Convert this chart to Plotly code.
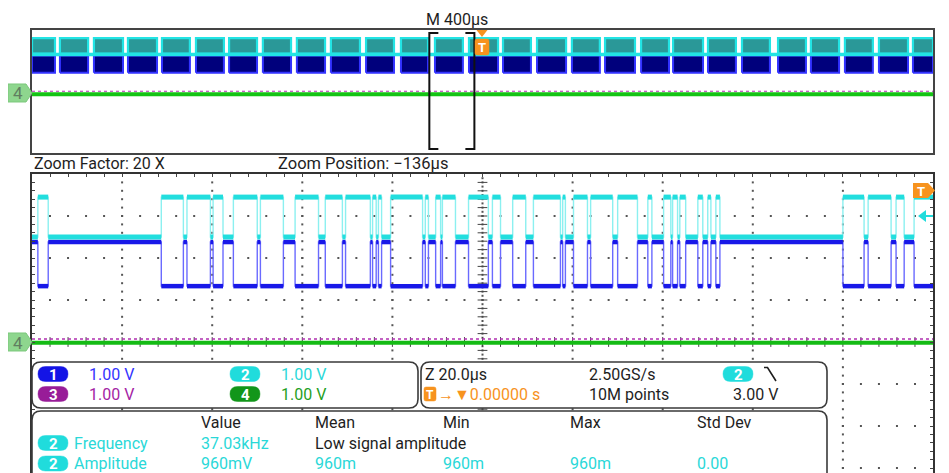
import plotly.graph_objects as go

# page is 949x473; the html body has an 8px margin, so the figure is 941x465 drawn at (8, 8)
PAGE_W, PAGE_H = 949, 473
OFF = 8
W, H = PAGE_W - OFF, PAGE_H - OFF

# ---------------- data ----------------
# Overview record (M 400 µs/div, trigger at centre): bursts of bus activity, µs
overview_burst_start = [-2000, -1876, -1725, -1574, -1423, -1272, -1125, -975, -824, -673,
                        -517, -362, -211, -60, 91, 242, 397, 544, 704, 846,
                        1001, 1152, 1312, 1458, 1609, 1760, 1911]
overview_burst_end = [-1898, -1751, -1596, -1445, -1299, -1148, -1001, -850, -699, -544,
                      -393, -242, -87, 69, 215, 371, 521, 677, 828, 979,
                      1125, 1276, 1436, 1583, 1733, 1889, 2000]

# Zoom window
zoom_factor = 20
zoom_position_us = -136
overview_us_per_div = 400

# Zoomed view: intervals where the differential pair is driven (µs)
zoom_active_start = [-234.7, -207.3, -201.6, -195.8, -191.3, -185.3, -177.6, -170.9, -166.4,
                     -160.4, -159.1, -156.4, -148.7, -146.4, -144.9, -139.1, -133.8, -129.3,
                     -124.7, -118.2, -115.8, -112.0, -106.0, -99.3, -95.8, -93.8, -92.2,
                     -88.2, -86.0, -84.2, -56.0, -50.4, -44.2, -40.2]
zoom_active_end = [-232.4, -202.4, -196.4, -193.6, -186.0, -180.2, -172.4, -167.1, -160.9,
                   -159.6, -158.4, -149.3, -148.0, -145.3, -142.0, -134.7, -132.0, -126.4,
                   -118.7, -117.6, -112.7, -107.1, -101.6, -98.4, -94.2, -92.7, -90.9,
                   -87.1, -85.3, -83.3, -51.3, -45.3, -42.4, -35.0]

# Trace levels (screen divisions)
ch2_high, ch2_idle = 3.45, 2.5
ch1_idle, ch1_low = 2.38, 1.33
ch3_level, ch4_level = 0.07, 0.0
trigger_level_div = 3.0

# Readouts
channel_scales = ["1.00 V", "1.00 V", "1.00 V", "1.00 V"]
meas_headers = ["Value", "Mean", "Min", "Max", "Std Dev"]
meas_freq = ["37.03kHz", "Low signal amplitude"]
meas_ampl = ["960mV", "960m", "960m", "960m", "0.00"]

# ---------------- helpers ----------------
FONT = "Roboto, 'Open Sans', sans-serif"
DARK = "#1e1e1e"
C1, C1T = "#1414e6", "#3434ff"
C2, C2T = "#20dcdc", "#2ad8d8"
C3, C3T = "#981c98", "#a424a4"
C4, C4T = "#12961a", "#1fa01f"
ORANGE = "#f7931e"


def fx(x):
    return (x - OFF) / W


def fy(y):
    return 1 - (y - OFF) / H


def px(x, y):
    return fx(x), fy(y)


def path_px(points, close=True):
    s = ""
    for cmd, coords in points:
        parts = []
        for j in range(0, len(coords), 2):
            X, Y = px(coords[j], coords[j + 1])
            parts.append(f"{X:.5f},{Y:.5f}")
        s += cmd + " " + " ".join(parts) + " "
    if close:
        s += "Z"
    return s


def rrect(x0, y0, x1, y1, r):
    return path_px([
        ("M", (x0 + r, y0)), ("L", (x1 - r, y0)), ("Q", (x1, y0, x1, y0 + r)),
        ("L", (x1, y1 - r)), ("Q", (x1, y1, x1 - r, y1)), ("L", (x0 + r, y1)),
        ("Q", (x0, y1, x0, y1 - r)), ("L", (x0, y0 + r)), ("Q", (x0, y0, x0 + r, y0)),
    ])


shapes, annos = [], []


def box(x0, y0, x1, y1, r=8, fill="white", line="#3a3a3a", lw=1.6):
    shapes.append(dict(type="path", xref="paper", yref="paper", path=rrect(x0, y0, x1, y1, r),
                       fillcolor=fill, line=dict(color=line, width=lw), layer="above"))


def txt(x, y, s, color=DARK, size=16, anchor="left", bold=False):
    annos.append(dict(xref="paper", yref="paper", x=fx(x), y=fy(y), text=f"<b>{s}</b>" if bold else s,
                      showarrow=False, xanchor=anchor, yanchor="middle",
                      font=dict(family=FONT, size=size, color=color), borderpad=0))


def pill(x, y, label, color):
    box(x, y - 7.5, x + 30, y + 7.5, r=7.5, fill=color, line=color, lw=0.5)
    txt(x + 15, y + 0.5, label, "white", 15, "center", True)


def steps(starts, ends, idle, active, x0, x1):
    xs, ys = [x0], [idle]
    for s, e in zip(starts, ends):
        xs += [s, s, e, e]
        ys += [idle, active, active, idle]
    xs.append(x1); ys.append(idle)
    return xs, ys


def flats(starts, ends, idle, active, x0, x1):
    xs, ys = [], []
    prev = x0
    for s, e in zip(starts, ends):
        xs += [prev, s, None, s, e, None]
        ys += [idle, idle, None, active, active, None]
        prev = e
    xs += [prev, x1]; ys += [idle, idle]
    return xs, ys


def bands(starts, ends, lo, hi):
    xs, ys = [], []
    for s, e in zip(starts, ends):
        xs += [s, e, e, s, s, None]
        ys += [lo, lo, hi, hi, lo, None]
    return xs, ys


fig = go.Figure()

# ---------------- overview panel ----------------
ov_half = overview_us_per_div * 5
fig.add_trace(go.Scatter(x=[-ov_half, ov_half], y=[ch3_level + 0.12] * 2, mode="lines",
                         line=dict(color="#b030b0", width=1.2, dash="dot"), xaxis="x", yaxis="y", hoverinfo="skip"))
fig.add_trace(go.Scatter(x=[-ov_half, ov_half], y=[ch4_level] * 2, mode="lines",
                         line=dict(color="#14c414", width=4), xaxis="x", yaxis="y", hoverinfo="skip"))
bx, by = bands(overview_burst_start, overview_burst_end, ch1_low, ch1_idle)
fig.add_trace(go.Scatter(x=bx, y=by, mode="lines", fill="toself", fillcolor="#00007c",
                         line=dict(color="#3232ff", width=2), xaxis="x", yaxis="y", hoverinfo="skip"))
bx, by = bands(overview_burst_start, overview_burst_end, ch2_idle, ch2_high)
fig.add_trace(go.Scatter(x=bx, y=by, mode="lines", fill="toself", fillcolor="#2a9898",
                         line=dict(color="#22e4e4", width=2.2), xaxis="x", yaxis="y", hoverinfo="skip"))
fig.add_trace(go.Scatter(x=[-ov_half, ov_half], y=[ch2_idle - 0.05] * 2, mode="lines",
                         line=dict(color="#22e4e4", width=3.5), xaxis="x", yaxis="y", hoverinfo="skip"))

# ---------------- zoom panel graticule ----------------
window = overview_us_per_div * 10 / zoom_factor
zx0 = zoom_position_us - window / 2
zx1 = zoom_position_us + window / 2
zdiv = window / 10
ybot = 4 - (PAGE_H - 174) / 42.0

gx, gy = [], []
for k in range(1, 10):
    if k == 5:
        continue
    for j in range(-16, 20):
        gx.append(zx0 + k * zdiv); gy.append(j * 0.2)
for r in [-3, -2, -1, 1, 2, 3]:
    for i in range(1, 50):
        gx.append(zx0 + i * zdiv / 5); gy.append(r)
for j in range(-32, 40):
    gx.append(zoom_position_us); gy.append(j * 0.1)
fig.add_trace(go.Scatter(x=gx, y=gy, mode="markers", marker=dict(symbol="square", size=2, color="#555"),
                         xaxis="x2", yaxis="y2", hoverinfo="skip"))
cx = [zoom_position_us] * 36
cy = [j * 0.2 for j in range(-16, 20)]
fig.add_trace(go.Scatter(x=cx, y=cy, mode="markers",
                         marker=dict(symbol="line-ew", size=7, line=dict(color="#444", width=1)),
                         xaxis="x2", yaxis="y2", hoverinfo="skip"))
hx = [zx0 + i * zdiv / 5 for i in range(1, 50)]
fig.add_trace(go.Scatter(x=hx, y=[0] * len(hx), mode="markers",
                         marker=dict(symbol="line-ns", size=7, line=dict(color="#444", width=1)),
                         xaxis="x2", yaxis="y2", hoverinfo="skip"))

# ---------------- zoom panel traces ----------------
fig.add_trace(go.Scatter(x=[zx0, zx1], y=[ch3_level] * 2, mode="lines",
                         line=dict(color="#b030b0", width=1.5, dash="dot"), xaxis="x2", yaxis="y2", hoverinfo="skip"))
fig.add_trace(go.Scatter(x=[zx0, zx1], y=[ch4_level - 0.02] * 2, mode="lines",
                         line=dict(color="#14bb14", width=4), xaxis="x2", yaxis="y2", hoverinfo="skip"))

sx, sy = steps(zoom_active_start, zoom_active_end, ch1_idle, ch1_low, zx0 - 5, zx1 + 5)
fig.add_trace(go.Scatter(x=sx, y=sy, mode="lines", line=dict(color="#6a6aff", width=1.4),
                         xaxis="x2", yaxis="y2", hoverinfo="skip"))
fxs, fys = flats(zoom_active_start, zoom_active_end, ch1_idle, ch1_low, zx0 - 5, zx1 + 5)
fig.add_trace(go.Scatter(x=fxs, y=fys, mode="lines", line=dict(color="#1818e8", width=4.5),
                         xaxis="x2", yaxis="y2", hoverinfo="skip"))
sx, sy = steps(zoom_active_start, zoom_active_end, ch2_idle, ch2_high, zx0 - 5, zx1 + 5)
fig.add_trace(go.Scatter(x=sx, y=sy, mode="lines", line=dict(color="#8cf0f0", width=1.4),
                         xaxis="x2", yaxis="y2", hoverinfo="skip"))
fxs, fys = flats(zoom_active_start, zoom_active_end, ch2_idle, ch2_high, zx0 - 5, zx1 + 5)
fig.add_trace(go.Scatter(x=fxs, y=fys, mode="lines", line=dict(color="#22dede", width=5),
                         xaxis="x2", yaxis="y2", hoverinfo="skip"))

# ---------------- markers / decorations ----------------
# zoom brackets on overview
for xb, d in [(zx0, 1), (zx1, -1)]:
    serif = d * 40
    shapes.append(dict(type="path", xref="x", yref="paper",
                       path=f"M {xb + serif},{fy(33)} L {xb},{fy(33)} L {xb},{fy(149)} L {xb + serif},{fy(149)}",
                       line=dict(color="#111", width=2)))
# trigger T on overview
shapes.append(dict(type="path", xref="paper", yref="paper",
                   path=path_px([("M", (476.5, 30)), ("L", (487.5, 30)), ("L", (482, 37))]),
                   fillcolor=ORANGE, line=dict(width=0)))
box(475, 39, 489, 55, r=2, fill=ORANGE, line=ORANGE, lw=0.5)
txt(482, 47.5, "T", "white", 13, "center", True)
# right T marker on zoom
shapes.append(dict(type="path", xref="paper", yref="paper", layer="above",
                   path=path_px([("M", (913, 183)), ("L", (928, 183)), ("L", (935, 190.5)), ("L", (928, 198)), ("L", (913, 198))]),
                   fillcolor=ORANGE, line=dict(width=0)))
txt(921, 191, "T", "white", 13, "center", True)
# trigger level arrow
ty = 174 + (4 - trigger_level_div) * 42
shapes.append(dict(type="path", xref="paper", yref="paper", layer="above",
                   path=path_px([("M", (918, ty)), ("L", (926, ty - 6)), ("L", (926, ty + 6))]),
                   fillcolor=C2, line=dict(width=0)))
shapes.append(dict(type="line", xref="paper", yref="paper", x0=fx(925), x1=fx(933), y0=fy(ty), y1=fy(ty),
                   line=dict(color=C2, width=2), layer="above"))
# channel 4 ground markers
for cyp in [93, 342]:
    shapes.append(dict(type="path", xref="paper", yref="paper", layer="above",
                       path=path_px([("M", (8, cyp - 9)), ("L", (26, cyp - 9)), ("L", (32, cyp)), ("L", (26, cyp + 9)), ("L", (8, cyp + 9))]),
                       fillcolor="#8ed68e", line=dict(color="#7cc87c", width=1)))
    txt(18, cyp + 0.5, "4", "#607f60", 17, "center")

# ---------------- readout boxes ----------------
box(32, 362, 418, 408, r=9)
box(421, 362, 827, 408, r=9)
box(32, 411, 827, 500, r=9)

pill(38, 374, "1", C1)
txt(88, 374, channel_scales[0], C1T)
pill(230, 374, "2", C2)
txt(280, 374, channel_scales[1], C2T)
pill(38, 394, "3", C3)
txt(88, 394, channel_scales[2], C3T)
pill(230, 394, "4", C4)
txt(280, 394, channel_scales[3], C4T)

txt(424, 374, f"Z {zdiv:.1f}µs")
box(424, 387, 436, 401, r=2, fill=ORANGE, line=ORANGE, lw=0.5)
txt(430, 394.5, "T", "white", 12, "center", True)
txt(437, 394, "→▼0.00000 s", ORANGE)
txt(588, 374, "2.50GS/s")
txt(588, 394, "10M points")
pill(723, 374, "2", C2)
shapes.append(dict(type="path", xref="paper", yref="paper", layer="above",
                   path=path_px([("M", (764, 367.5)), ("L", (767.5, 367.5)), ("L", (776, 381))], close=False),
                   line=dict(color=DARK, width=1.6)))
txt(732, 394, f"{trigger_level_div:.2f} V")

hx_pos = [200, 314, 442, 569, 696]
for xh, h in zip(hx_pos, meas_headers):
    txt(xh, 422, h)
pill(38, 443, "2", C2)
txt(73, 443, "Frequency", C2T)
txt(200, 443, meas_freq[0], C2T)
txt(314, 443, meas_freq[1], DARK)
pill(38, 463.5, "2", C2)
txt(73, 463, "Amplitude", C2T)
for xh, v in zip(hx_pos, meas_ampl):
    txt(xh, 463, v, C2T)

# headings
txt(457, 19, f"M {overview_us_per_div}µs", DARK, 16, "center")
txt(33, 164, f"Zoom Factor: {zoom_factor} X")
txt(277, 164, f"Zoom Position: −{abs(zoom_position_us)}µs", DARK, 16.5)

ax_common = dict(showgrid=False, zeroline=False, showticklabels=False)
fig.update_layout(
    width=W, height=H, margin=dict(l=0, r=0, t=0, b=0),
    paper_bgcolor="white", plot_bgcolor="white", showlegend=False,
    xaxis=dict(domain=[fx(32), fx(933)], range=[-ov_half, ov_half], anchor="y",
               showline=True, mirror=True, linecolor="#444", linewidth=1.5, ticks="", **ax_common),
    yaxis=dict(domain=[fy(153), fy(30)], range=[-3.6, 3.95], anchor="x",
               showline=True, mirror=True, linecolor="#444", linewidth=1.5, ticks="", **ax_common),
    xaxis2=dict(domain=[fx(32), fx(933)], range=[zx0, zx1], anchor="y2", side="top",
                showline=True, linecolor="#333", linewidth=1.5, ticks="inside", ticklen=3,
                tick0=zx0, dtick=zdiv / 5, tickcolor="#444", tickwidth=1, **ax_common),
    yaxis2=dict(domain=[0, fy(174)], range=[ybot, 4], anchor="x2",
                showline=True, mirror="ticks", linecolor="#333", linewidth=1.5, ticks="inside", ticklen=3,
                tick0=0, dtick=0.2, tickcolor="#444", tickwidth=1, **ax_common),
    shapes=shapes, annotations=annos,
)

fig.write_html("out.html")
